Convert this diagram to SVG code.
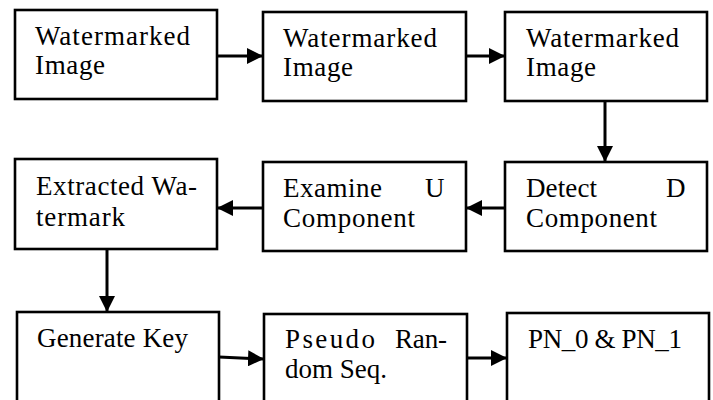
<svg xmlns="http://www.w3.org/2000/svg" width="713" height="400" viewBox="0 0 713 400">
<style>
.box{fill:#fff;stroke:#000;stroke-width:2.6}
.t{font-family:"Liberation Serif","Times New Roman",serif;font-size:27px;fill:#000}
.c{stroke:#000;stroke-width:3;fill:none}
</style>
<defs>
<marker id="ah" markerUnits="userSpaceOnUse" markerWidth="16" markerHeight="16" refX="16" refY="8" orient="auto">
<path d="M0,0 L16,8 L0,16 Z" fill="#000"/>
</marker>
</defs>
<rect width="713" height="400" fill="#fff"/>
<g id="connectors">
<line class="c" x1="217" y1="56" x2="263" y2="56" marker-end="url(#ah)"/>
<line class="c" x1="466" y1="56" x2="505" y2="56" marker-end="url(#ah)"/>
<line class="c" x1="605" y1="101" x2="605" y2="162" marker-end="url(#ah)"/>
<line class="c" x1="505" y1="208" x2="466" y2="208" marker-end="url(#ah)"/>
<line class="c" x1="263" y1="208" x2="217" y2="208" marker-end="url(#ah)"/>
<line class="c" x1="107" y1="249" x2="107" y2="312" marker-end="url(#ah)"/>
<line class="c" x1="219" y1="357" x2="264" y2="359" marker-end="url(#ah)"/>
<line class="c" x1="467" y1="358" x2="507" y2="358" marker-end="url(#ah)"/>
</g>
<g id="n1"><rect class="box" x="15" y="10" width="202" height="89"/>
<text class="t" x="35" y="45" textLength="155" lengthAdjust="spacing">Watermarked</text>
<text class="t" x="35" y="74" textLength="70" lengthAdjust="spacing">Image</text></g>
<g id="n2"><rect class="box" x="263" y="12" width="203" height="89"/>
<text class="t" x="283" y="47" textLength="154" lengthAdjust="spacing">Watermarked</text>
<text class="t" x="283" y="76" textLength="70" lengthAdjust="spacing">Image</text></g>
<g id="n3"><rect class="box" x="505" y="12" width="202" height="89"/>
<text class="t" x="526" y="47" textLength="153" lengthAdjust="spacing">Watermarked</text>
<text class="t" x="526" y="76" textLength="70" lengthAdjust="spacing">Image</text></g>
<g id="n4"><rect class="box" x="15" y="159" width="202" height="90"/>
<text class="t" x="36" y="195" textLength="161" lengthAdjust="spacing">Extracted Wa-</text>
<text class="t" x="36" y="226" textLength="89" lengthAdjust="spacing">termark</text></g>
<g id="n5"><rect class="box" x="263" y="162" width="203" height="89"/>
<text class="t" x="283" y="197" textLength="99" lengthAdjust="spacing">Examine</text>
<text class="t" x="425" y="197">U</text>
<text class="t" x="283" y="227" textLength="132" lengthAdjust="spacing">Component</text></g>
<g id="n6"><rect class="box" x="505" y="162" width="202" height="89"/>
<text class="t" x="526" y="197" textLength="71" lengthAdjust="spacing">Detect</text>
<text class="t" x="666" y="197">D</text>
<text class="t" x="526" y="227" textLength="131" lengthAdjust="spacing">Component</text></g>
<g id="n7"><rect class="box" x="17" y="312" width="202" height="100"/>
<text class="t" x="37" y="347" textLength="151" lengthAdjust="spacing">Generate Key</text></g>
<g id="n8"><rect class="box" x="264" y="314" width="203" height="100"/>
<text class="t" x="285" y="348" textLength="90" lengthAdjust="spacing">Pseudo</text>
<text class="t" x="395" y="348" textLength="52" lengthAdjust="spacing">Ran-</text>
<text class="t" x="285" y="378" textLength="102" lengthAdjust="spacing">dom Seq.</text></g>
<g id="n9"><rect class="box" x="507" y="313" width="202" height="100"/>
<text class="t" x="528" y="348" textLength="154" lengthAdjust="spacing">PN_0 &amp; PN_1</text></g>
</svg>
